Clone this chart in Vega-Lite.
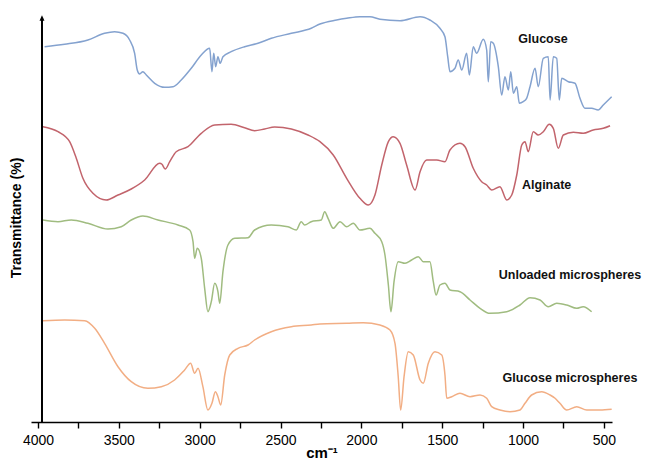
{
  "$schema": "https://vega.github.io/schema/vega-lite/v6.json",
  "width": 581,
  "height": 409,
  "autosize": "none",
  "padding": {"left": 31, "top": 13, "right": 34, "bottom": 39},
  "background": "white",
  "config": {"view": {"stroke": null}, "font": "Liberation Sans"},
  "datasets": {
    "spectra": [
      {"s":"Glucose","w":3959,"t":375.3},{"s":"Glucose","w":3835,"t":377.7},{"s":"Glucose","w":3691,"t":382},{"s":"Glucose","w":3588,"t":388.7},{"s":"Glucose","w":3526,"t":390.3},{"s":"Glucose","w":3474,"t":388.7},{"s":"Glucose","w":3433,"t":382},{"s":"Glucose","w":3402,"t":368.7},{"s":"Glucose","w":3386,"t":352},{"s":"Glucose","w":3371,"t":348},{"s":"Glucose","w":3351,"t":350.3},{"s":"Glucose","w":3330,"t":347},{"s":"Glucose","w":3278,"t":338.7},{"s":"Glucose","w":3216,"t":334.7},{"s":"Glucose","w":3165,"t":335.3},{"s":"Glucose","w":3114,"t":342},{"s":"Glucose","w":3052,"t":353.7},{"s":"Glucose","w":2990,"t":367},{"s":"Glucose","w":2938,"t":373.7},{"s":"Glucose","w":2924,"t":350.3},{"s":"Glucose","w":2913,"t":368.7},{"s":"Glucose","w":2901,"t":355.3},{"s":"Glucose","w":2887,"t":365.3},{"s":"Glucose","w":2873,"t":358.7},{"s":"Glucose","w":2856,"t":365.3},{"s":"Glucose","w":2805,"t":370.3},{"s":"Glucose","w":2722,"t":375.3},{"s":"Glucose","w":2639,"t":378.7},{"s":"Glucose","w":2557,"t":383.7},{"s":"Glucose","w":2433,"t":388.7},{"s":"Glucose","w":2310,"t":393.7},{"s":"Glucose","w":2256,"t":398},{"s":"Glucose","w":2153,"t":402},{"s":"Glucose","w":2091,"t":403.7},{"s":"Glucose","w":2009,"t":405.3},{"s":"Glucose","w":1947,"t":405.3},{"s":"Glucose","w":1885,"t":402.7},{"s":"Glucose","w":1761,"t":401.3},{"s":"Glucose","w":1637,"t":405.3},{"s":"Glucose","w":1576,"t":402},{"s":"Glucose","w":1514,"t":393.7},{"s":"Glucose","w":1483,"t":385.3},{"s":"Glucose","w":1466,"t":365.3},{"s":"Glucose","w":1452,"t":350.3},{"s":"Glucose","w":1421,"t":353.7},{"s":"Glucose","w":1401,"t":362},{"s":"Glucose","w":1379,"t":352},{"s":"Glucose","w":1349,"t":368.7},{"s":"Glucose","w":1332,"t":347},{"s":"Glucose","w":1308,"t":375.3},{"s":"Glucose","w":1287,"t":368.7},{"s":"Glucose","w":1246,"t":382.7},{"s":"Glucose","w":1225,"t":372},{"s":"Glucose","w":1215,"t":340.3},{"s":"Glucose","w":1200,"t":380.3},{"s":"Glucose","w":1184,"t":378.7},{"s":"Glucose","w":1153,"t":355.3},{"s":"Glucose","w":1132,"t":327},{"s":"Glucose","w":1112,"t":345.3},{"s":"Glucose","w":1091,"t":332},{"s":"Glucose","w":1076,"t":350.3},{"s":"Glucose","w":1060,"t":328.7},{"s":"Glucose","w":1039,"t":335.3},{"s":"Glucose","w":1023,"t":318.7},{"s":"Glucose","w":999,"t":320.3},{"s":"Glucose","w":978,"t":323.7},{"s":"Glucose","w":957,"t":335.3},{"s":"Glucose","w":926,"t":353.7},{"s":"Glucose","w":906,"t":335.3},{"s":"Glucose","w":875,"t":363.7},{"s":"Glucose","w":844,"t":365.3},{"s":"Glucose","w":833,"t":322},{"s":"Glucose","w":813,"t":365.3},{"s":"Glucose","w":792,"t":363.7},{"s":"Glucose","w":776,"t":322},{"s":"Glucose","w":761,"t":343.7},{"s":"Glucose","w":720,"t":340.3},{"s":"Glucose","w":679,"t":338.7},{"s":"Glucose","w":648,"t":323.7},{"s":"Glucose","w":617,"t":313.7},{"s":"Glucose","w":576,"t":313.7},{"s":"Glucose","w":535,"t":312},{"s":"Glucose","w":504,"t":317},{"s":"Glucose","w":452,"t":325.3},

      {"s":"Alginate","w":3969,"t":295.3},{"s":"Alginate","w":3876,"t":290.3},{"s":"Alginate","w":3804,"t":280.3},{"s":"Alginate","w":3763,"t":263.7},{"s":"Alginate","w":3722,"t":243.7},{"s":"Alginate","w":3660,"t":228.7},{"s":"Alginate","w":3578,"t":222},{"s":"Alginate","w":3505,"t":227},{"s":"Alginate","w":3423,"t":233},{"s":"Alginate","w":3340,"t":242},{"s":"Alginate","w":3247,"t":258.7},{"s":"Alginate","w":3233,"t":257.7},{"s":"Alginate","w":3213,"t":253},{"s":"Alginate","w":3185,"t":260.3},{"s":"Alginate","w":3145,"t":270.3},{"s":"Alginate","w":3072,"t":275.3},{"s":"Alginate","w":2990,"t":288.7},{"s":"Alginate","w":2907,"t":297},{"s":"Alginate","w":2805,"t":297.7},{"s":"Alginate","w":2722,"t":294.3},{"s":"Alginate","w":2660,"t":291.3},{"s":"Alginate","w":2598,"t":293},{"s":"Alginate","w":2536,"t":295},{"s":"Alginate","w":2433,"t":293},{"s":"Alginate","w":2330,"t":287},{"s":"Alginate","w":2256,"t":280.3},{"s":"Alginate","w":2174,"t":267},{"s":"Alginate","w":2091,"t":243.7},{"s":"Alginate","w":2009,"t":223.7},{"s":"Alginate","w":1957,"t":217},{"s":"Alginate","w":1916,"t":227},{"s":"Alginate","w":1874,"t":257},{"s":"Alginate","w":1833,"t":280.3},{"s":"Alginate","w":1803,"t":285.3},{"s":"Alginate","w":1761,"t":278.7},{"s":"Alginate","w":1720,"t":257},{"s":"Alginate","w":1668,"t":232},{"s":"Alginate","w":1637,"t":250.3},{"s":"Alginate","w":1596,"t":262},{"s":"Alginate","w":1534,"t":262},{"s":"Alginate","w":1483,"t":260.3},{"s":"Alginate","w":1452,"t":272},{"s":"Alginate","w":1390,"t":278.7},{"s":"Alginate","w":1359,"t":275.3},{"s":"Alginate","w":1308,"t":253.7},{"s":"Alginate","w":1256,"t":240.3},{"s":"Alginate","w":1225,"t":237},{"s":"Alginate","w":1194,"t":232},{"s":"Alginate","w":1143,"t":235.3},{"s":"Alginate","w":1101,"t":222},{"s":"Alginate","w":1070,"t":227},{"s":"Alginate","w":1039,"t":247},{"s":"Alginate","w":1008,"t":277},{"s":"Alginate","w":988,"t":280.3},{"s":"Alginate","w":968,"t":270.3},{"s":"Alginate","w":937,"t":290.3},{"s":"Alginate","w":906,"t":287},{"s":"Alginate","w":875,"t":290.3},{"s":"Alginate","w":838,"t":297.7},{"s":"Alginate","w":813,"t":293.7},{"s":"Alginate","w":782,"t":273.7},{"s":"Alginate","w":751,"t":287},{"s":"Alginate","w":689,"t":289.7},{"s":"Alginate","w":628,"t":288.7},{"s":"Alginate","w":566,"t":292},{"s":"Alginate","w":504,"t":293.7},{"s":"Alginate","w":462,"t":296.3},

      {"s":"Unloaded","w":3969,"t":202},{"s":"Unloaded","w":3876,"t":200.3},{"s":"Unloaded","w":3794,"t":202},{"s":"Unloaded","w":3691,"t":198.7},{"s":"Unloaded","w":3567,"t":193},{"s":"Unloaded","w":3485,"t":195.3},{"s":"Unloaded","w":3423,"t":202},{"s":"Unloaded","w":3351,"t":206},{"s":"Unloaded","w":3258,"t":202},{"s":"Unloaded","w":3134,"t":197},{"s":"Unloaded","w":3062,"t":192},{"s":"Unloaded","w":3041,"t":180.3},{"s":"Unloaded","w":3031,"t":163.7},{"s":"Unloaded","w":3015,"t":173.7},{"s":"Unloaded","w":2990,"t":163.7},{"s":"Unloaded","w":2969,"t":133.7},{"s":"Unloaded","w":2949,"t":110.3},{"s":"Unloaded","w":2928,"t":120.3},{"s":"Unloaded","w":2907,"t":138.7},{"s":"Unloaded","w":2887,"t":130.3},{"s":"Unloaded","w":2876,"t":118.7},{"s":"Unloaded","w":2856,"t":150.3},{"s":"Unloaded","w":2825,"t":177},{"s":"Unloaded","w":2783,"t":183.7},{"s":"Unloaded","w":2701,"t":184.3},{"s":"Unloaded","w":2660,"t":192},{"s":"Unloaded","w":2557,"t":197},{"s":"Unloaded","w":2454,"t":195.3},{"s":"Unloaded","w":2402,"t":192},{"s":"Unloaded","w":2372,"t":200.3},{"s":"Unloaded","w":2351,"t":197},{"s":"Unloaded","w":2310,"t":200.3},{"s":"Unloaded","w":2248,"t":202},{"s":"Unloaded","w":2227,"t":210.3},{"s":"Unloaded","w":2206,"t":203.7},{"s":"Unloaded","w":2174,"t":193.7},{"s":"Unloaded","w":2132,"t":200.3},{"s":"Unloaded","w":2091,"t":195.3},{"s":"Unloaded","w":2050,"t":198.7},{"s":"Unloaded","w":2009,"t":192},{"s":"Unloaded","w":1947,"t":193.7},{"s":"Unloaded","w":1916,"t":188.7},{"s":"Unloaded","w":1874,"t":180.3},{"s":"Unloaded","w":1854,"t":167},{"s":"Unloaded","w":1833,"t":137},{"s":"Unloaded","w":1817,"t":110.3},{"s":"Unloaded","w":1798,"t":140.3},{"s":"Unloaded","w":1772,"t":160.3},{"s":"Unloaded","w":1730,"t":158.7},{"s":"Unloaded","w":1689,"t":162},{"s":"Unloaded","w":1648,"t":165.3},{"s":"Unloaded","w":1617,"t":160.3},{"s":"Unloaded","w":1576,"t":160.3},{"s":"Unloaded","w":1555,"t":140.3},{"s":"Unloaded","w":1538,"t":127},{"s":"Unloaded","w":1514,"t":137},{"s":"Unloaded","w":1483,"t":138.7},{"s":"Unloaded","w":1452,"t":132},{"s":"Unloaded","w":1390,"t":130.3},{"s":"Unloaded","w":1328,"t":122},{"s":"Unloaded","w":1266,"t":113.7},{"s":"Unloaded","w":1205,"t":108.7},{"s":"Unloaded","w":1101,"t":110.3},{"s":"Unloaded","w":1019,"t":117},{"s":"Unloaded","w":957,"t":124.3},{"s":"Unloaded","w":895,"t":122},{"s":"Unloaded","w":844,"t":115.3},{"s":"Unloaded","w":792,"t":118.7},{"s":"Unloaded","w":730,"t":117},{"s":"Unloaded","w":668,"t":113.7},{"s":"Unloaded","w":628,"t":115.3},{"s":"Unloaded","w":576,"t":110.3},

      {"s":"GlucoseMS","w":3969,"t":101.3},{"s":"GlucoseMS","w":3835,"t":102},{"s":"GlucoseMS","w":3711,"t":101.3},{"s":"GlucoseMS","w":3649,"t":93.7},{"s":"GlucoseMS","w":3588,"t":78.7},{"s":"GlucoseMS","w":3505,"t":55.3},{"s":"GlucoseMS","w":3423,"t":40.3},{"s":"GlucoseMS","w":3320,"t":33.7},{"s":"GlucoseMS","w":3237,"t":35.3},{"s":"GlucoseMS","w":3155,"t":42},{"s":"GlucoseMS","w":3093,"t":52},{"s":"GlucoseMS","w":3056,"t":58.7},{"s":"GlucoseMS","w":3031,"t":48.7},{"s":"GlucoseMS","w":3010,"t":53.7},{"s":"GlucoseMS","w":2980,"t":35.3},{"s":"GlucoseMS","w":2949,"t":12},{"s":"GlucoseMS","w":2924,"t":18.7},{"s":"GlucoseMS","w":2903,"t":30.3},{"s":"GlucoseMS","w":2887,"t":25.3},{"s":"GlucoseMS","w":2870,"t":17},{"s":"GlucoseMS","w":2845,"t":47},{"s":"GlucoseMS","w":2814,"t":67},{"s":"GlucoseMS","w":2763,"t":73.7},{"s":"GlucoseMS","w":2701,"t":77},{"s":"GlucoseMS","w":2660,"t":82},{"s":"GlucoseMS","w":2557,"t":90.3},{"s":"GlucoseMS","w":2433,"t":95.3},{"s":"GlucoseMS","w":2310,"t":97},{"s":"GlucoseMS","w":2256,"t":98},{"s":"GlucoseMS","w":2091,"t":98.7},{"s":"GlucoseMS","w":1988,"t":99.3},{"s":"GlucoseMS","w":1885,"t":97},{"s":"GlucoseMS","w":1823,"t":92},{"s":"GlucoseMS","w":1792,"t":78.7},{"s":"GlucoseMS","w":1772,"t":45.3},{"s":"GlucoseMS","w":1757,"t":12},{"s":"GlucoseMS","w":1736,"t":45.3},{"s":"GlucoseMS","w":1710,"t":70.3},{"s":"GlucoseMS","w":1679,"t":67},{"s":"GlucoseMS","w":1637,"t":42},{"s":"GlucoseMS","w":1617,"t":38.7},{"s":"GlucoseMS","w":1586,"t":58.7},{"s":"GlucoseMS","w":1545,"t":70.3},{"s":"GlucoseMS","w":1503,"t":67},{"s":"GlucoseMS","w":1483,"t":47},{"s":"GlucoseMS","w":1472,"t":23.7},{"s":"GlucoseMS","w":1441,"t":25.3},{"s":"GlucoseMS","w":1390,"t":28.7},{"s":"GlucoseMS","w":1328,"t":25.3},{"s":"GlucoseMS","w":1266,"t":27},{"s":"GlucoseMS","w":1225,"t":23.7},{"s":"GlucoseMS","w":1194,"t":15.3},{"s":"GlucoseMS","w":1143,"t":12},{"s":"GlucoseMS","w":1081,"t":10.3},{"s":"GlucoseMS","w":1019,"t":12},{"s":"GlucoseMS","w":988,"t":18.7},{"s":"GlucoseMS","w":947,"t":27},{"s":"GlucoseMS","w":885,"t":30.3},{"s":"GlucoseMS","w":833,"t":27},{"s":"GlucoseMS","w":802,"t":23.7},{"s":"GlucoseMS","w":772,"t":18.7},{"s":"GlucoseMS","w":730,"t":12},{"s":"GlucoseMS","w":668,"t":15.3},{"s":"GlucoseMS","w":606,"t":12},{"s":"GlucoseMS","w":524,"t":12},{"s":"GlucoseMS","w":452,"t":12.7}
    ],
    "labels": [
      {"label":"Glucose","w":877,"t":383},
      {"label":"Alginate","w":854,"t":237},
      {"label":"Unloaded microspheres","w":710,"t":147},
      {"label":"Glucose microspheres","w":710,"t":44}
    ],
    "axisline": [
      {"w":3975,"t0":0,"t1":403}
    ],
    "arrow": [
      {"w":3975,"t":404}
    ]
  },
  "layer": [
    {
      "data": {"name": "spectra"},
      "mark": {"type": "line", "strokeWidth": 1.5, "strokeJoin": "round", "interpolate": "monotone"},
      "encoding": {
        "x": {"field": "w", "type": "quantitative",
              "scale": {"domain": [450, 4043], "reverse": true, "nice": false, "zero": false},
              "axis": {"values": [500,750,1000,1250,1500,1750,2000,2250,2500,2750,3000,3250,3500,3750,4000],
                       "labelExpr": "datum.value % 500 == 0 ? datum.value : ''",
                       "grid": false, "domainColor": "#000000", "domainWidth": 1.6,
                       "tickColor": "#000000", "tickWidth": 1.4, "tickSize": 6,
                       "labelFontSize": 14, "labelColor": "#000000", "labelPadding": 5, "labelFont": "Liberation Sans",
                       "title": "cm⁻¹", "titleFontSize": 15, "titleFontWeight": "bold", "titleColor": "#000000",
                       "titlePadding": -2, "titleFont": "Liberation Sans", "labelOverlap": false}},
        "y": {"field": "t", "type": "quantitative",
              "scale": {"domain": [0, 409], "nice": false, "zero": false},
              "axis": {"domain": false, "ticks": false, "labels": false, "grid": false,
                       "title": "Transmittance (%)", "titleFontSize": 14, "titleFontWeight": "bold",
                       "titleColor": "#000000", "titlePadding": 8, "titleFont": "Liberation Sans"}},
        "color": {"field": "s", "type": "nominal",
                  "scale": {"domain": ["Glucose", "Alginate", "Unloaded", "GlucoseMS"],
                            "range": ["#84a2cf", "#c2646c", "#a0bc80", "#f2ae84"]},
                  "legend": null}
      }
    },
    {
      "data": {"name": "axisline"},
      "mark": {"type": "rule", "color": "#000000", "strokeWidth": 2},
      "encoding": {
        "x": {"field": "w", "type": "quantitative"},
        "y": {"field": "t0", "type": "quantitative"},
        "y2": {"field": "t1"}
      }
    },
    {
      "data": {"name": "arrow"},
      "mark": {"type": "point", "shape": "M0,-0.5L0.45,0.5L-0.45,0.5Z", "filled": true, "color": "#000000", "size": 121, "opacity": 1},
      "encoding": {
        "x": {"field": "w", "type": "quantitative"},
        "y": {"field": "t", "type": "quantitative"}
      }
    },
    {
      "data": {"name": "labels"},
      "mark": {"type": "text", "fontWeight": "bold", "fontSize": 12.5, "font": "Liberation Sans", "color": "#111111", "align": "center", "baseline": "middle"},
      "encoding": {
        "x": {"field": "w", "type": "quantitative"},
        "y": {"field": "t", "type": "quantitative"},
        "text": {"field": "label"}
      }
    }
  ]
}
